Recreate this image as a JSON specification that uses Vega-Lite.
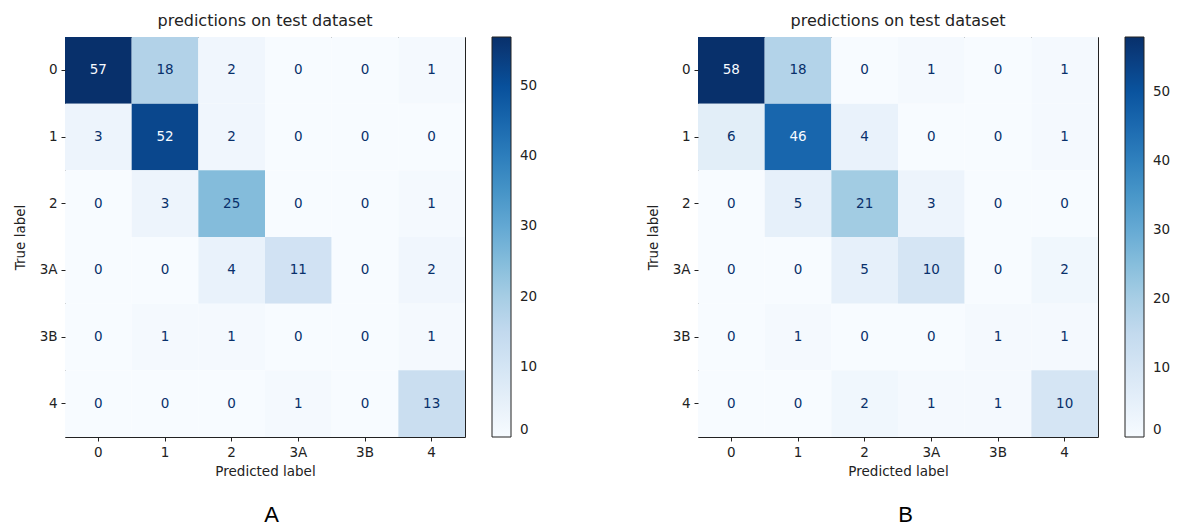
{
  "$schema": "https://vega.github.io/schema/vega-lite/v6.json",
  "padding": {"left": 12, "top": 12, "right": 5, "bottom": 5},
  "background": "white",
  "datasets": {
    "A": [
      {"t": "0", "p": "0", "n": 57}, {"t": "0", "p": "1", "n": 18}, {"t": "0", "p": "2", "n": 2}, {"t": "0", "p": "3A", "n": 0}, {"t": "0", "p": "3B", "n": 0}, {"t": "0", "p": "4", "n": 1},
      {"t": "1", "p": "0", "n": 3}, {"t": "1", "p": "1", "n": 52}, {"t": "1", "p": "2", "n": 2}, {"t": "1", "p": "3A", "n": 0}, {"t": "1", "p": "3B", "n": 0}, {"t": "1", "p": "4", "n": 0},
      {"t": "2", "p": "0", "n": 0}, {"t": "2", "p": "1", "n": 3}, {"t": "2", "p": "2", "n": 25}, {"t": "2", "p": "3A", "n": 0}, {"t": "2", "p": "3B", "n": 0}, {"t": "2", "p": "4", "n": 1},
      {"t": "3A", "p": "0", "n": 0}, {"t": "3A", "p": "1", "n": 0}, {"t": "3A", "p": "2", "n": 4}, {"t": "3A", "p": "3A", "n": 11}, {"t": "3A", "p": "3B", "n": 0}, {"t": "3A", "p": "4", "n": 2},
      {"t": "3B", "p": "0", "n": 0}, {"t": "3B", "p": "1", "n": 1}, {"t": "3B", "p": "2", "n": 1}, {"t": "3B", "p": "3A", "n": 0}, {"t": "3B", "p": "3B", "n": 0}, {"t": "3B", "p": "4", "n": 1},
      {"t": "4", "p": "0", "n": 0}, {"t": "4", "p": "1", "n": 0}, {"t": "4", "p": "2", "n": 0}, {"t": "4", "p": "3A", "n": 1}, {"t": "4", "p": "3B", "n": 0}, {"t": "4", "p": "4", "n": 13}
    ],
    "B": [
      {"t": "0", "p": "0", "n": 58}, {"t": "0", "p": "1", "n": 18}, {"t": "0", "p": "2", "n": 0}, {"t": "0", "p": "3A", "n": 1}, {"t": "0", "p": "3B", "n": 0}, {"t": "0", "p": "4", "n": 1},
      {"t": "1", "p": "0", "n": 6}, {"t": "1", "p": "1", "n": 46}, {"t": "1", "p": "2", "n": 4}, {"t": "1", "p": "3A", "n": 0}, {"t": "1", "p": "3B", "n": 0}, {"t": "1", "p": "4", "n": 1},
      {"t": "2", "p": "0", "n": 0}, {"t": "2", "p": "1", "n": 5}, {"t": "2", "p": "2", "n": 21}, {"t": "2", "p": "3A", "n": 3}, {"t": "2", "p": "3B", "n": 0}, {"t": "2", "p": "4", "n": 0},
      {"t": "3A", "p": "0", "n": 0}, {"t": "3A", "p": "1", "n": 0}, {"t": "3A", "p": "2", "n": 5}, {"t": "3A", "p": "3A", "n": 10}, {"t": "3A", "p": "3B", "n": 0}, {"t": "3A", "p": "4", "n": 2},
      {"t": "3B", "p": "0", "n": 0}, {"t": "3B", "p": "1", "n": 1}, {"t": "3B", "p": "2", "n": 0}, {"t": "3B", "p": "3A", "n": 0}, {"t": "3B", "p": "3B", "n": 1}, {"t": "3B", "p": "4", "n": 1},
      {"t": "4", "p": "0", "n": 0}, {"t": "4", "p": "1", "n": 0}, {"t": "4", "p": "2", "n": 2}, {"t": "4", "p": "3A", "n": 1}, {"t": "4", "p": "3B", "n": 1}, {"t": "4", "p": "4", "n": 10}
    ]
  },
  "config": {
    "font": "DejaVu Sans",
    "view": {"stroke": "#222222", "strokeWidth": 1},
    "axis": {
      "labelFont": "DejaVu Sans", "labelFontSize": 13.5, "labelColor": "#222222",
      "titleFont": "DejaVu Sans", "titleFontSize": 13.5, "titleFontWeight": "normal", "titleColor": "#222222",
      "tickColor": "#222222", "tickSize": 4, "domain": false, "grid": false, "labelPadding": 4, "titlePadding": 6
    },
    "axisY": {"titlePadding": 12},
    "legend": {
      "gradientLength": 400, "gradientThickness": 19, "offset": 27,
      "labelFont": "DejaVu Sans", "labelFontSize": 13.5, "labelColor": "#222222",
      "gradientStrokeColor": "#222222", "gradientStrokeWidth": 1,
      "gradientLabelOffset": 9, "labelBaseline": "middle", "labelOverlap": false, "padding": 0
    },
    "title": {"font": "DejaVu Sans", "fontSize": 16, "fontWeight": "normal", "color": "#222222"},
    "concat": {"spacing": 106}
  },
  "resolve": {"scale": {"color": "independent"}, "legend": {"color": "independent"}},
  "hconcat": [
    {
      "title": {"text": "A", "orient": "bottom", "anchor": "middle", "dx": -4, "font": "Liberation Sans", "fontSize": 22, "fontWeight": "normal", "color": "#000000", "offset": 26},
      "resolve": {"scale": {"color": "independent"}, "legend": {"color": "independent"}},
      "vconcat": [
        {
          "width": 400, "height": 400,
          "title": {"text": "predictions on test dataset", "offset": 8},
          "data": {"name": "A"},
          "encoding": {
            "x": {"field": "p", "type": "ordinal", "sort": ["0", "1", "2", "3A", "3B", "4"], "title": "Predicted label", "axis": {"labelAngle": 0}},
            "y": {"field": "t", "type": "ordinal", "sort": ["0", "1", "2", "3A", "3B", "4"], "title": "True label"}
          },
          "layer": [
            {
              "mark": {"type": "rect"},
              "encoding": {
                "color": {
                  "field": "n", "type": "quantitative",
                  "scale": {"domain": [0, 7.125, 14.25, 21.375, 28.5, 35.625, 42.75, 49.875, 57], "range": ["#f7fbff", "#deebf7", "#c6dbef", "#9ecae1", "#6baed6", "#4292c6", "#2171b5", "#08519c", "#08306b"]},
                  "legend": {"title": null, "values": [0, 10, 20, 30, 40, 50]}
                }
              }
            },
            {
              "mark": {"type": "text", "fontSize": 13.5, "font": "DejaVu Sans"},
              "encoding": {
                "text": {"field": "n", "type": "quantitative"},
                "color": {"condition": {"test": "datum.n > 28.5", "value": "#f7fbff"}, "value": "#08306b"}
              }
            }
          ]
        }
      ]
    },
    {
      "title": {"text": "B", "orient": "bottom", "anchor": "middle", "dx": -3, "font": "Liberation Sans", "fontSize": 22, "fontWeight": "normal", "color": "#000000", "offset": 26},
      "resolve": {"scale": {"color": "independent"}, "legend": {"color": "independent"}},
      "vconcat": [
        {
          "width": 400, "height": 400,
          "title": {"text": "predictions on test dataset", "offset": 8},
          "data": {"name": "B"},
          "encoding": {
            "x": {"field": "p", "type": "ordinal", "sort": ["0", "1", "2", "3A", "3B", "4"], "title": "Predicted label", "axis": {"labelAngle": 0}},
            "y": {"field": "t", "type": "ordinal", "sort": ["0", "1", "2", "3A", "3B", "4"], "title": "True label"}
          },
          "layer": [
            {
              "mark": {"type": "rect"},
              "encoding": {
                "color": {
                  "field": "n", "type": "quantitative",
                  "scale": {"domain": [0, 7.25, 14.5, 21.75, 29, 36.25, 43.5, 50.75, 58], "range": ["#f7fbff", "#deebf7", "#c6dbef", "#9ecae1", "#6baed6", "#4292c6", "#2171b5", "#08519c", "#08306b"]},
                  "legend": {"title": null, "values": [0, 10, 20, 30, 40, 50]}
                }
              }
            },
            {
              "mark": {"type": "text", "fontSize": 13.5, "font": "DejaVu Sans"},
              "encoding": {
                "text": {"field": "n", "type": "quantitative"},
                "color": {"condition": {"test": "datum.n > 29", "value": "#f7fbff"}, "value": "#08306b"}
              }
            }
          ]
        }
      ]
    }
  ]
}
